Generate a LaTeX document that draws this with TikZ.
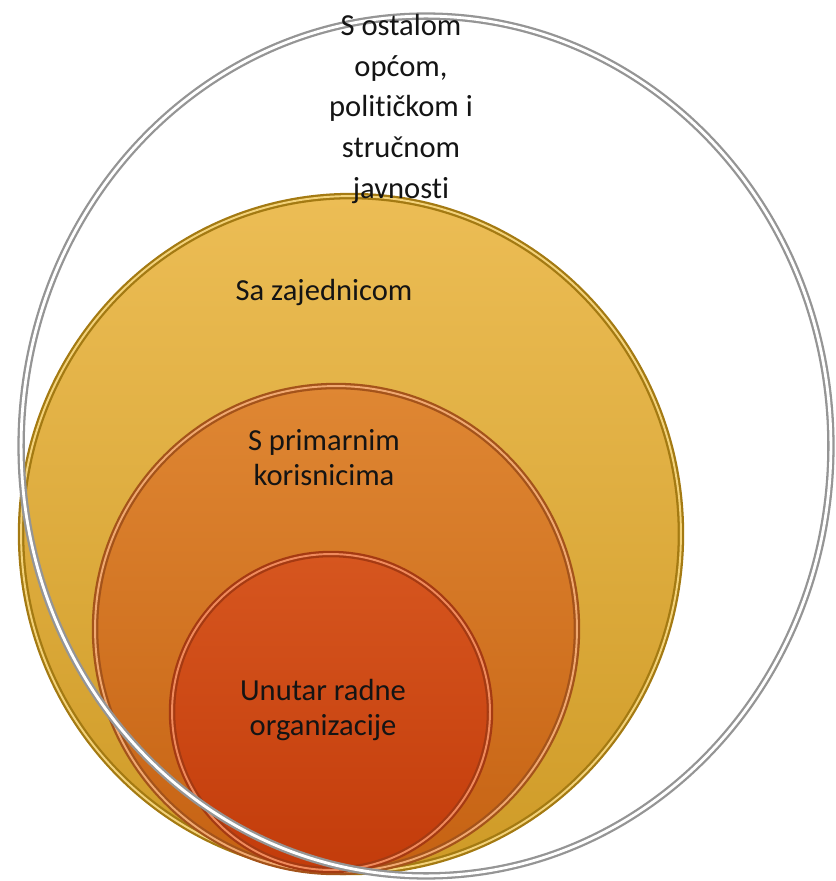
\documentclass[tikz,border=0pt]{standalone}
\usepackage{fontspec}
\setmainfont{Carlito}[Ligatures=NoCommon]
\usepackage{tikz}
\usetikzlibrary{shapes.geometric}
\definecolor{goldtop}{HTML}{ECBD55}
\definecolor{goldbottom}{HTML}{CF9B27}
\definecolor{goldrim}{HTML}{A47A12}
\definecolor{goldlight}{HTML}{F3D27A}
\definecolor{orangetop}{HTML}{DF8733}
\definecolor{orangebottom}{HTML}{C66213}
\definecolor{orangerim}{HTML}{A4531A}
\definecolor{orangelight}{HTML}{F0A870}
\definecolor{redtop}{HTML}{D6561F}
\definecolor{redbottom}{HTML}{C33C0B}
\definecolor{redrim}{HTML}{A53A12}
\definecolor{redlight}{HTML}{F08A5C}
\definecolor{ringgray}{HTML}{7A7A7A}
\definecolor{textblack}{HTML}{141414}

\begin{document}
\begin{tikzpicture}[x=0.02cm, y=-0.02cm,
    zone/.style={ellipse, inner sep=0pt, line width=1.3pt, double distance=1.1pt},
    zonetext/.style={align=center, text=textblack, font=\fontsize{17.4}{19.9}\selectfont}]
    \useasboundingbox (0,0) rectangle (835,881);

    % Zones, from the widest coloured one inwards
    \node(zajednica)[zone, minimum width=13.2cm, minimum height=13.52cm,
        top color=goldtop, bottom color=goldbottom, draw=goldrim, double=goldlight] at (351,534) {};
    \node(korisnici)[zone, minimum width=9.64cm, minimum height=9.72cm,
        top color=orangetop, bottom color=orangebottom, draw=orangerim, double=orangelight] at (336,629) {};
    \node(organizacija)[zone, minimum width=6.36cm, minimum height=6.32cm,
        top color=redtop, bottom color=redbottom, draw=redrim, double=redlight] at (331,712) {};

    % Outer ring on top, it crosses the zones at the lower left
    \node(javnost)[zone, minimum width=16.2cm, minimum height=17.2cm,
        draw=ringgray!80, double=white, line width=1.3pt, double distance=1.6pt] at (426,446) {};

    % Labels
    \node(t-javnost)[zonetext, font=\fontsize{17.4}{23.2}\selectfont] at (401,109)
        {S ostalom\\općom,\\političkom i\\stručnom\\javnosti};
    \node(t-zajednica)[zonetext, anchor=base] at (324,301) {Sa zajednicom};
    \node(t-korisnici)[zonetext] at (324,458) {S primarnim\\korisnicima};
    \node(t-organizacija)[zonetext] at (323,710) {Unutar radne\\organizacije};

\end{tikzpicture}
\end{document}
